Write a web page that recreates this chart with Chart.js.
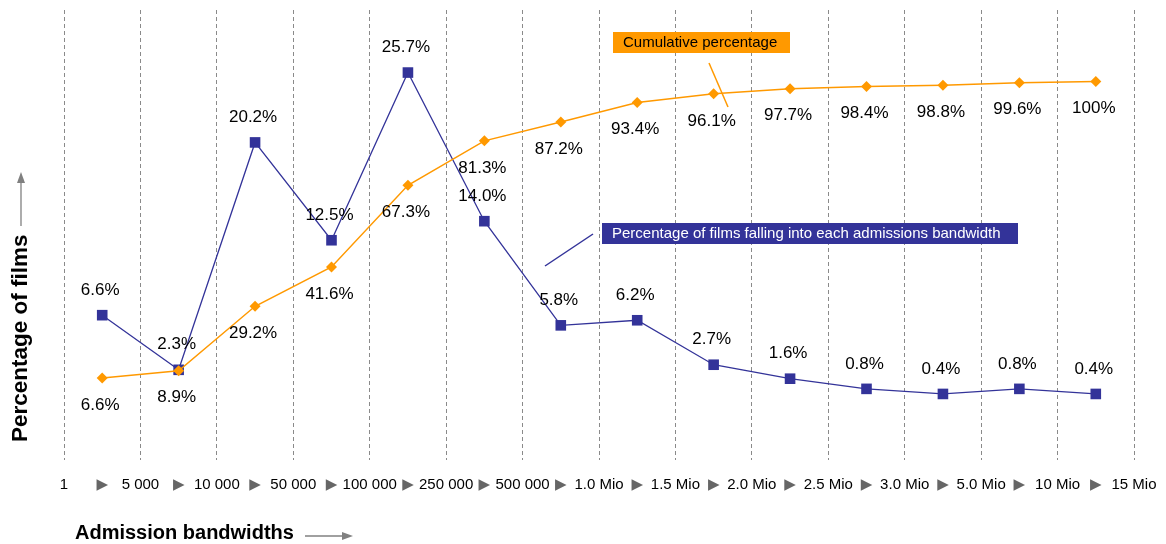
<!DOCTYPE html>
<html lang="en">
<head>
  <meta charset="UTF-8" />
  <title>Admission bandwidths</title>
  <script src="https://cdn.jsdelivr.net/npm/chart.js"></script>
  <style>
    html, body { margin: 0; padding: 0; background: #fff; }
  </style>
</head>
<body>
  <canvas id="bandChart" width="1166" height="544"></canvas>

  <script>
    // band limits (dashed lines) and the values per band
    const bounds = ['1', '5 000', '10 000', '50 000', '100 000', '250 000', '500 000',
      '1.0 Mio', '1.5 Mio', '2.0 Mio', '2.5 Mio', '3.0 Mio', '5.0 Mio', '10 Mio', '15 Mio'];
    const bandShare = [6.6, 2.3, 20.2, 12.5, 25.7, 14.0, 5.8, 6.2, 2.7, 1.6, 0.8, 0.4, 0.8, 0.4];
    const cumShare = [6.6, 8.9, 29.2, 41.6, 67.3, 81.3, 87.2, 93.4, 96.1, 97.7, 98.4, 98.8, 99.6, 100];

    const BLUE = '#333399';
    const ORANGE = '#ff9900';
    const FONT = 'Arial, "Liberation Sans", "DejaVu Sans", sans-serif';

    // each band sits halfway between two limits
    const toPoints = (vals) => vals.map((v, i) => ({ x: i + 0.5, y: v }));
    const fmt = (v) => (v === 100 ? '100%' : v.toFixed(1) + '%');

    function arrow(ctx, x1, y1, x2, y2) {
      const a = Math.atan2(y2 - y1, x2 - x1);
      ctx.beginPath();
      ctx.moveTo(x1, y1);
      ctx.lineTo(x2 - 9 * Math.cos(a), y2 - 9 * Math.sin(a));
      ctx.stroke();
      ctx.beginPath();
      ctx.moveTo(x2, y2);
      ctx.lineTo(x2 - 11 * Math.cos(a) + 4 * Math.sin(a), y2 - 11 * Math.sin(a) - 4 * Math.cos(a));
      ctx.lineTo(x2 - 11 * Math.cos(a) - 4 * Math.sin(a), y2 - 11 * Math.sin(a) + 4 * Math.cos(a));
      ctx.closePath();
      ctx.fill();
    }

    const extras = {
      id: 'extras',
      afterDatasetsDraw(chart) {
        const ctx = chart.ctx;
        ctx.save();

        // value labels: shares above the squares, cumulative below the diamonds
        ctx.font = '17px ' + FONT;
        ctx.fillStyle = '#000';
        ctx.textAlign = 'center';
        ctx.textBaseline = 'middle';
        chart.data.datasets.forEach((ds, di) => {
          const meta = chart.getDatasetMeta(di);
          const dy = ds.yAxisID === 'yShare' ? -25 : 27;
          meta.data.forEach((el, i) => {
            ctx.fillText(fmt(ds.data[i].y), el.x - 2, el.y + dy);
          });
        });

        // series callouts
        ctx.lineWidth = 1.5;
        ctx.strokeStyle = ORANGE;
        ctx.beginPath();
        ctx.moveTo(709, 63);
        ctx.lineTo(728, 107);
        ctx.stroke();
        ctx.fillStyle = ORANGE;
        ctx.fillRect(613, 32, 177, 21);
        ctx.fillStyle = '#000';
        ctx.font = '15px ' + FONT;
        ctx.textAlign = 'left';
        ctx.fillText('Cumulative percentage', 623, 43, 158);

        ctx.strokeStyle = BLUE;
        ctx.beginPath();
        ctx.moveTo(545, 266);
        ctx.lineTo(593, 234);
        ctx.stroke();
        ctx.fillStyle = BLUE;
        ctx.fillRect(602, 223, 416, 21);
        ctx.fillStyle = '#fff';
        ctx.fillText('Percentage of films falling into each admissions bandwidth', 612, 234, 396);

        // axis titles with their arrows
        ctx.fillStyle = '#000';
        ctx.font = 'bold 20px ' + FONT;
        ctx.textAlign = 'left';
        ctx.fillText('Admission bandwidths', 75, 533);
        ctx.save();
        ctx.translate(21, 442);
        ctx.rotate(-Math.PI / 2);
        ctx.font = 'bold 22.5px ' + FONT;
        ctx.fillText('Percentage of films', 0, 0);
        ctx.restore();

        ctx.strokeStyle = '#808080';
        ctx.fillStyle = '#808080';
        ctx.lineWidth = 1.3;
        arrow(ctx, 305, 536, 353, 536);
        arrow(ctx, 21, 226, 21, 172);
        ctx.restore();
      }
    };

    new Chart(document.getElementById('bandChart'), {
      type: 'line',
      data: {
        datasets: [{
          label: 'Cumulative percentage',
          data: toPoints(cumShare),
          yAxisID: 'yCum',
          borderColor: ORANGE,
          backgroundColor: ORANGE,
          borderWidth: 1.5,
          pointStyle: 'rectRot',
          pointRadius: 5.5,
          pointBorderWidth: 0,
          order: 0
        }, {
          label: 'Percentage of films falling into each admissions bandwidth',
          data: toPoints(bandShare),
          yAxisID: 'yShare',
          borderColor: BLUE,
          backgroundColor: BLUE,
          borderWidth: 1.3,
          pointStyle: 'rect',
          pointRadius: 7.5,
          pointBorderWidth: 0,
          order: 1
        }]
      },
      options: {
        responsive: false,
        animation: false,
        layout: { padding: { left: 64, right: 32, top: 10, bottom: 41 } },
        plugins: {
          legend: { display: false },
          tooltip: { enabled: false }
        },
        scales: {
          x: {
            type: 'linear',
            min: 0,
            max: bounds.length - 1,
            grid: {
              color: (c) => (c.tick && c.tick.value % 1 === 0 ? '#8a8a8a' : 'rgba(0,0,0,0)'),
              lineWidth: 1,
              tickLength: 7,
              tickColor: 'rgba(0,0,0,0)'
            },
            border: { display: false, dash: [4, 3] },
            ticks: {
              stepSize: 0.5,
              autoSkip: false,
              maxRotation: 0,
              padding: 9,
              font: { family: FONT, size: 15 },
              color: (c) => (c.tick && c.tick.value % 1 === 0 ? '#000' : '#666'),
              callback: (v) => (v % 1 === 0 ? bounds[v] : '▶')
            }
          },
          // shares use a quarter of the cumulative scale
          yCum: { display: false, min: -19.2, max: 122.5 },
          yShare: { display: false, min: -4.8, max: 30.625 }
        }
      },
      plugins: [extras]
    });
  </script>
</body>
</html>
